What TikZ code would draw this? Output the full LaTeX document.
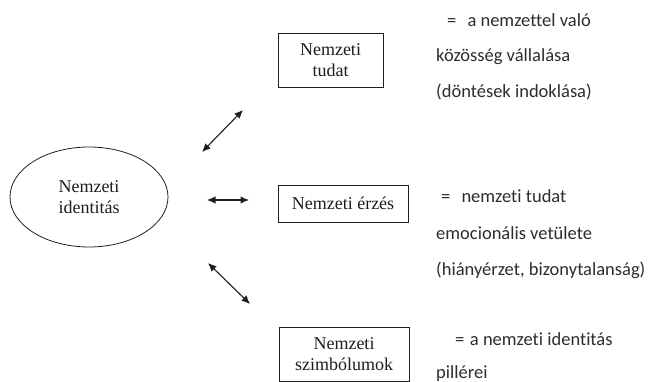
\documentclass[tikz,border=0pt]{standalone}
\usepackage{fontspec}
\setmainfont{Liberation Serif}
\newfontfamily\notefont[Ligatures={NoCommon}]{Carlito}
\usetikzlibrary{shapes.geometric,arrows.meta}
\definecolor{ink}{RGB}{30,30,30}
\definecolor{notegray}{RGB}{45,45,45}
\tikzset{
  concept/.style={draw=ink,line width=0.8pt,align=center,inner sep=0pt,
    font=\fontsize{18}{21.5}\selectfont,text=ink},
  ovalbox/.style={concept,ellipse,minimum width=158pt,minimum height=100pt},
  rectbox/.style={concept,rectangle,minimum width=130pt},
  note/.style={anchor=base west,inner sep=0pt,font=\notefont\fontsize{18.5}{22}\selectfont,text=notegray},
  link/.style={ink,line width=1.1pt,{Latex[length=8.5pt,width=7.5pt]}-{Latex[length=8.5pt,width=7.5pt]}}
}
\begin{document}
\begin{tikzpicture}[x=1pt,y=-1pt]
\useasboundingbox (0,0) rectangle (655,382);

% central concept
\node[ovalbox] (ident) at (89,197) {Nemzeti\\identitás};

% three components
\node[rectbox,minimum width=105pt,minimum height=54pt] (tudat) at (330.5,60) {Nemzeti\\tudat};
\node[rectbox,minimum height=37pt] (erzes) at (343,203.5) {Nemzeti érzés};
\node[rectbox,minimum height=54pt] (szimb) at (344,354) {Nemzeti\\szimbólumok};

% end points of the two-way arrows
\coordinate (a1) at (202,152); \coordinate (b1) at (243,110);
\coordinate (a2) at (207,200); \coordinate (b2) at (249,200);
\coordinate (a3) at (208,263); \coordinate (b3) at (250,304);
\draw[link] (a1) -- (b1);
\draw[link] (a2) -- (b2);
\draw[link] (a3) -- (b3);

% explanations
\node[note] (t1) at (447,27) {=\hspace{0.6em}a nemzettel való};
\node[note] (t2) at (436,62) {közösség vállalása};
\node[note] (t3) at (436,98) {(döntések indoklása)};

\node[note] (e1) at (441,202) {=\hspace{0.6em}nemzeti tudat};
\node[note] (e2) at (436,239) {emocionális vetülete};
\node[note] (e3) at (436,275) {(hiányérzet, bizonytalanság)};

\node[note] (s1) at (455,345) {=\hspace{0.3em}a nemzeti identitás};
\node[note] (s2) at (436,378) {pillérei};
\end{tikzpicture}
\end{document}
